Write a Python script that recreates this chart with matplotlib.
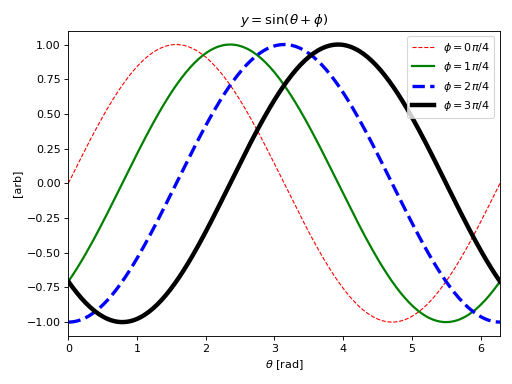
import numpy as np
import matplotlib
matplotlib.use("Agg")
import matplotlib.pyplot as plt

# phase offsets (in units of pi/4) and line styles
phase_steps = [0, 1, 2, 3]
colors = ['r', 'g', 'b', 'k']
styles = ['--', '-', '--', '-']
widths = [1, 2, 3, 4]

theta = np.linspace(0, 2 * np.pi, 200)

fig, ax = plt.subplots(figsize=(6.4, 4.8), dpi=80)

for k, c, ls, lw in zip(phase_steps, colors, styles, widths):
    phi = k * np.pi / 4
    ax.plot(theta, np.sin(theta - phi), color=c, linestyle=ls, linewidth=lw,
            label=r'$\phi = %d\pi/4$' % k)

ax.set_xlim(0, 2 * np.pi)
ax.set_title(r'$y = \sin(\theta + \phi)$')
ax.set_xlabel(r'$\theta$ [rad]')
ax.set_ylabel('[arb]')
ax.legend(loc='upper right')

fig.tight_layout()
fig.savefig('out.png')
